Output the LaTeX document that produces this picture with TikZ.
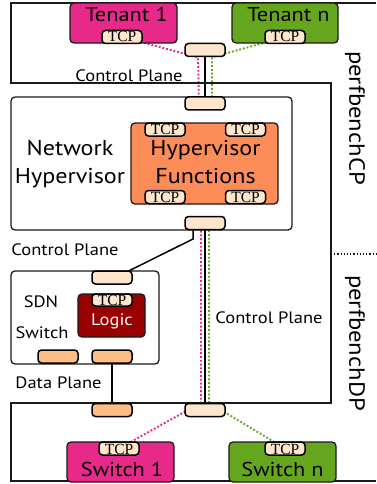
\documentclass[tikz,border=0pt]{standalone}
\usepackage{fontspec}
\setmainfont{Liberation Serif}
\setsansfont{PT Sans}[FakeStretch=1.12]
\definecolor{magentaA}{HTML}{E7298A}
\definecolor{greenA}{HTML}{66A61E}
\definecolor{orangeA}{HTML}{FC8D59}
\definecolor{logicred}{HTML}{990000}
\definecolor{portbeige}{HTML}{FDE6CB}
\definecolor{portorange}{HTML}{FDBE85}
\definecolor{edge}{HTML}{1A1A1A}
\pgfdeclarelayer{wires}
\pgfsetlayers{wires,main}
\tikzset{
  frame/.style={draw=edge, line width=1.2pt},
  unit/.style={draw=edge, line width=1.3pt, rounded corners=4pt, inner sep=0pt},
  port/.style={draw=black, line width=1.5pt, rounded corners=3.5pt, fill=portbeige,
               minimum width=40pt, minimum height=13pt, inner sep=0pt},
  dport/.style={port, fill=portorange},
  tcptext/.style={anchor=base, inner sep=0pt, font=\rmfamily\fontsize{15.5}{15.5}\selectfont},
  bigtext/.style={anchor=base, inner sep=0pt, font=\sffamily\fontsize{20}{20}\selectfont},
  midtext/.style={anchor=base, inner sep=0pt, font=\sffamily\fontsize{21.5}{21.5}\selectfont},
  labtext/.style={anchor=base, inner sep=0pt, font=\sffamily\fontsize{16.5}{16.5}\selectfont},
  sidetext/.style={inner sep=0pt, rotate=-90, font=\sffamily\fontsize{22}{22}\selectfont},
  pinkwire/.style={draw=magentaA, line width=1.9pt, dash pattern=on 1.9pt off 1.9pt},
  greenwire/.style={draw=greenA, line width=1.9pt, dash pattern=on 1.9pt off 1.9pt},
  blackwire/.style={draw=black, line width=1.5pt},
}
\begin{document}
\begin{tikzpicture}[x=1pt,y=-1pt]
\useasboundingbox (0,0) rectangle (376,484);

% outer boundary of the two benchmark domains
\draw[frame] (376,3) -- (11,3) -- (11,83) -- (331,83) -- (331,403) -- (11,403) -- (11,481) -- (376,481);
\draw[draw=edge, line width=1.2pt, dotted] (331,254) -- (376,254);
\node[sidetext] (cp) at (355,118) {perfbenchCP};
\node[sidetext] (dp) at (355,343) {perfbenchDP};

% tenants
\node[unit, fill=magentaA, minimum width=107pt, minimum height=40pt] (t1) at (123.5,23) {};
\node[bigtext] (t1txt) at (126.5,22) {Tenant 1};
\node[port] (t1tcp) at (122,37) {};
\node[tcptext] (t1tcptxt) at (122,42) {TCP};
\node[unit, fill=greenA, minimum width=106pt, minimum height=40pt] (tn) at (285,23) {};
\node[bigtext] (tntxt) at (288.5,22) {Tenant n};
\node[port] (tntcp) at (285,37) {};
\node[tcptext] (tntcptxt) at (285,42) {TCP};

\node[port] (cptop) at (205,50) {};
\node[labtext] (cplabel1) at (129,82) {Control Plane};

% network hypervisor
\node[unit, fill=white, minimum width=281pt, minimum height=133pt] (hv) at (151.5,163.5) {};
\node[midtext] (hvtxt1) at (70,155) {Network};
\node[midtext] (hvtxt2) at (70,183) {Hypervisor};
\node[port] (hvtop) at (205,103.5) {};
\node[port] (hvbot) at (205,223) {};
\node[unit, fill=orangeA, minimum width=147pt, minimum height=81pt] (hf) at (204.5,163.5) {};
\node[midtext] (hftxt1) at (205.5,155) {Hypervisor};
\node[midtext] (hftxt2) at (205.5,183) {Functions};
\node[port] (hftl) at (165,129.5) {};
\node[tcptext] at (165,135) {TCP};
\node[port] (hftr) at (245.5,129.5) {};
\node[tcptext] at (245.5,135) {TCP};
\node[port] (hfbl) at (165,197) {};
\node[tcptext] at (165,202.5) {TCP};
\node[port] (hfbr) at (245.5,197) {};
\node[tcptext] at (245.5,202.5) {TCP};

\node[labtext] (cplabel2) at (65,255) {Control Plane};
\node[labtext] (cplabel3) at (269,323) {Control Plane};

% SDN switch
\node[unit, fill=white, minimum width=148pt, minimum height=93pt] (sdn) at (85,317.5) {};
\node[labtext] (sdntxt1) at (41,307) {SDN};
\node[labtext] (sdntxt2) at (42,338) {Switch};
\node[port] (sdntop) at (112,277.5) {};
\node[unit, fill=logicred, minimum width=67pt, minimum height=43pt] (logic) at (111.5,315.5) {};
\node[labtext, text=white] (logictxt) at (112,325) {Logic};
\node[port, minimum height=12pt] (logictcp) at (112,300) {};
\node[tcptext] at (112,305) {TCP};
\node[dport] (dp1) at (58,356.5) {};
\node[dport] (dp2) at (112,356.5) {};

\node[labtext] (dplabel) at (58.5,388) {Data Plane};

% switches under test
\node[dport] (dpbot) at (112,410) {};
\node[port] (cpbot) at (205,410) {};
\node[unit, fill=magentaA, minimum width=107pt, minimum height=40pt] (s1) at (120.5,462) {};
\node[bigtext] (s1txt) at (122,476) {Switch 1};
\node[port] (s1tcp) at (119,448.5) {};
\node[tcptext] at (119,454) {TCP};
\node[unit, fill=greenA, minimum width=107pt, minimum height=40pt] (sn) at (282.5,462) {};
\node[bigtext] (sntxt) at (282.5,476) {Switch n};
\node[port] (sntcp) at (285,448.5) {};
\node[tcptext] at (285,454) {TCP};

\begin{pgfonlayer}{wires}
  % control plane trunk
  \draw[blackwire] (cptop.center) -- (hvtop.center);
  \draw[blackwire] (hvbot.center) -- (cpbot.center);
  \draw[blackwire] ([xshift=-12pt]hvbot.center) |- ++(0,16) -- ([yshift=-9pt]sdntop.north) -- (sdntop.center);
  \draw[blackwire] (dp2.center) -- (dpbot.center);
  % tenant 1 / switch 1 control channel
  \draw[pinkwire] (t1tcp.center) -- ([xshift=-7pt]cptop.south) -- ([xshift=-6pt]hvtop.center) -- (hftl.center);
  \draw[pinkwire] ([xshift=7pt]hfbl.center) -- ([xshift=-4pt]hvbot.north) -- ([xshift=-4pt]cpbot.north) -- (s1tcp.center);
  % tenant n / switch n control channel
  \draw[greenwire] (tntcp.center) -- ([xshift=7pt]cptop.south) -- ([xshift=7pt]hvtop.center) -- (hftr.center);
  \draw[greenwire] ([xshift=-7pt]hfbr.center) -- ([xshift=4pt]hvbot.north) -- ([xshift=4pt]cpbot.north) -- (sntcp.center);
\end{pgfonlayer}
\end{tikzpicture}
\end{document}
